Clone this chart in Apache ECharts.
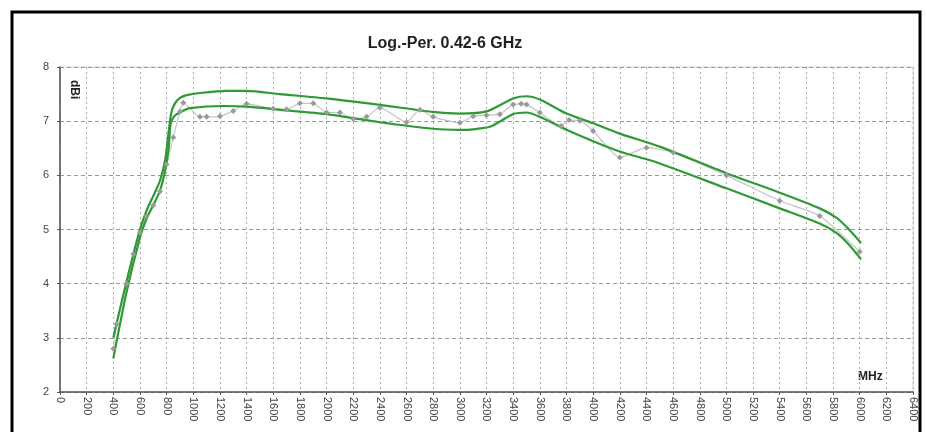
<!DOCTYPE html>
<html lang="en">
<head>
    <meta charset="UTF-8">
    <title>Log.-Per. 0.42-6 GHz</title>
    <script src="https://cdn.jsdelivr.net/npm/echarts@6/dist/echarts.min.js"></script>
    <style>body{margin:0;background:#fff;}</style>
</head>
<body>
<div id="main" style="width: 926px;height:432px;"></div>
<script>
    // measured gain (gray, with markers) [MHz, dBi]
    var measured = [
        [400,2.8],[425,3.25],[500,4.0],[550,4.55],[600,4.95],[650,5.25],[700,5.45],[750,5.7],
        [800,6.2],[850,6.7],[900,7.18],[925,7.34],[1050,7.08],[1100,7.08],[1200,7.09],[1300,7.19],
        [1400,7.32],[1600,7.23],[1700,7.22],[1800,7.33],[1900,7.33],[2000,7.16],[2100,7.16],
        [2200,7.04],[2300,7.08],[2400,7.25],[2600,6.98],[2700,7.21],[2800,7.08],[3000,6.97],
        [3100,7.09],[3200,7.11],[3300,7.13],[3400,7.31],[3460,7.32],[3500,7.31],[3600,7.16],
        [3760,6.91],[3820,7.02],[3900,7.01],[4000,6.82],[4200,6.33],[4400,6.51],[4600,6.42],
        [5000,6.0],[5400,5.53],[5700,5.25],[6000,4.59]
    ];
    // upper tolerance curve
    var upper = [
        [400,3.0],[500,4.05],[600,5.0],[650,5.35],[700,5.62],[750,5.9],[790,6.3],[815,6.8],
        [835,7.15],[860,7.32],[900,7.43],[950,7.48],[1050,7.52],[1250,7.56],
        [1400,7.56],[1650,7.5],[2000,7.42],[2400,7.3],[2800,7.17],[3000,7.14],[3200,7.18],
        [3400,7.42],[3500,7.46],[3600,7.4],[3800,7.14],[4000,6.96],[4200,6.77],[4500,6.53],
        [5000,6.04],[5400,5.68],[5700,5.39],[5830,5.21],[5920,5.0],[6010,4.75]
    ];
    // lower tolerance curve
    var lower = [
        [400,2.62],[500,3.85],[600,4.85],[650,5.2],[700,5.45],[750,5.72],[790,6.1],[815,6.5],
        [830,6.95],[860,7.1],[913,7.18],[975,7.24],[1225,7.28],[1400,7.27],
        [1650,7.21],[2000,7.13],[2400,6.98],[2800,6.86],[3000,6.84],[3100,6.85],[3230,6.9],
        [3400,7.13],[3500,7.16],[3600,7.08],[3800,6.84],[4000,6.63],[4200,6.44],[4500,6.22],
        [5000,5.76],[5400,5.39],[5700,5.11],[5830,4.93],[5920,4.72],[6010,4.45]
    ];

    var myChart = echarts.init(document.getElementById('main'));
    var green = '#2f9a35';

    var option = {
        animation: false,
        title: {
            text: 'Log.-Per. 0.42-6 GHz',
            left: 440,
            textAlign: 'center',
            top: 31,
            textStyle: {fontFamily: 'Arial', fontSize: 16, fontWeight: 'bold', color: '#222'}
        },
        grid: {
            left: 60, right: 13, top: 67, bottom: 40,
            show: true, borderColor: '#d0d0d0', borderWidth: 1
        },
        xAxis: {
            type: 'value', min: 0, max: 6400, interval: 200,
            axisLine: {lineStyle: {color: '#555', width: 1.5}},
            axisTick: {show: true, length: 3, lineStyle: {color: '#555'}},
            axisLabel: {rotate: -90, margin: 5, color: '#444', fontFamily: 'Arial', fontSize: 11,
                formatter: function (v) { return String(v); }},
            splitLine: {lineStyle: {color: '#aaa', type: [2, 3]}}
        },
        yAxis: {
            type: 'value', min: 2, max: 8, interval: 1,
            axisLine: {show: true, lineStyle: {color: '#555', width: 1.5}},
            axisTick: {show: true, length: 3, lineStyle: {color: '#555'}},
            axisLabel: {margin: 11, color: '#444', fontFamily: 'Arial', fontSize: 11},
            splitLine: {lineStyle: {color: '#999', type: [4, 3]}}
        },
        series: [
            {
                name: 'measured', type: 'line', data: measured, smooth: 0.2,
                symbol: 'diamond', symbolSize: 6,
                itemStyle: {color: '#9a9a9a'},
                lineStyle: {color: '#c4c4c4', width: 1.2}
            },
            {
                name: 'upper', type: 'line', data: upper, smooth: 0.25, showSymbol: false,
                lineStyle: {color: green, width: 2.2}
            },
            {
                name: 'lower', type: 'line', data: lower, smooth: 0.25, showSymbol: false,
                lineStyle: {color: green, width: 2.2}
            }
        ],
        graphic: [
            {type: 'rect', shape: {x: 12, y: 12, width: 908, height: 440},
             style: {fill: 'none', stroke: '#000', lineWidth: 3}},
            {type: 'text', x: 80, y: 80, rotation: -Math.PI / 2,
             style: {text: 'dBi', fill: '#222', font: 'bold 12px Arial'}},
            {type: 'text', x: 858, y: 371,
             style: {text: 'MHz', fill: '#222', font: 'bold 12px Arial'}}
        ]
    };

    myChart.setOption(option);
</script>
</body>
</html>
